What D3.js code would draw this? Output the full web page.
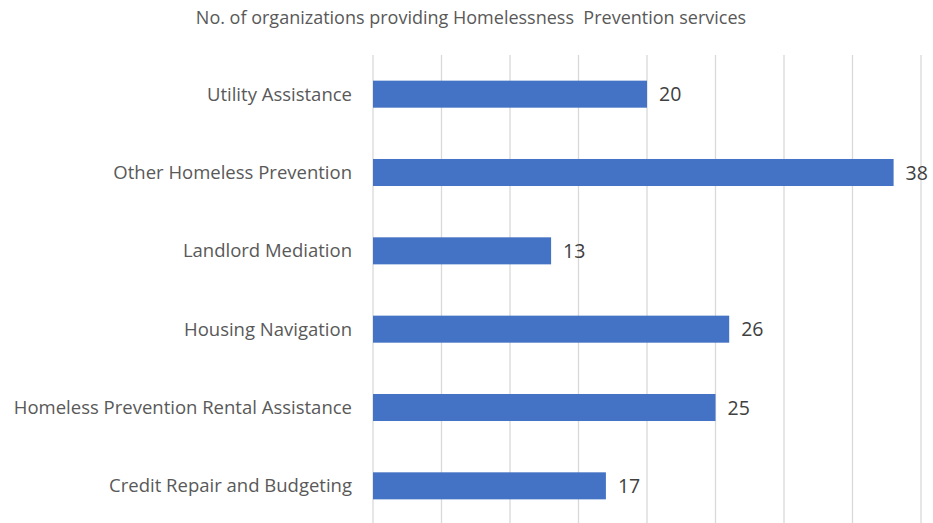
<!DOCTYPE html>
<html>
<head>
<meta charset="utf-8">
<script src="https://cdn.jsdelivr.net/npm/d3@7"></script>
<style>
  body { margin: 0; background: #fff; }
  text { font-family: "Open Sans", Lato, sans-serif; }
</style>
</head>
<body>
<svg id="chart" width="933" height="523"></svg>
<script>
var title = "No. of organizations providing Homelessness  Prevention services"

var categories = [
    "Utility Assistance",
    "Other Homeless Prevention",
    "Landlord Mediation",
    "Housing Navigation",
    "Homeless Prevention Rental Assistance",
    "Credit Repair and Budgeting"
]
var counts = [20, 38, 13, 26, 25, 17]
var xTicks = [0, 5, 10, 15, 20, 25, 30, 35, 40]

var svg = d3.select("#chart")

var x = d3.scaleLinear().domain([0, 40]).range([373, 921])
var y = d3.scaleBand().domain(categories).range([55, 525]).paddingInner(0.655).paddingOuter(0.3275)

// gridlines
svg.append("g")
    .selectAll("line")
    .data(xTicks)
    .join("line")
    .attr("x1", function(d){ return x(d); })
    .attr("x2", function(d){ return x(d); })
    .attr("y1", 55)
    .attr("y2", 523)
    .style("stroke", "#d9d9d9")
    .style("stroke-width", 1.3)

// bars
svg.append("g")
    .selectAll("rect")
    .data(counts)
    .join("rect")
    .attr("x", x(0))
    .attr("y", function(d, i){ return y(categories[i]); })
    .attr("width", function(d){ return x(d) - x(0); })
    .attr("height", y.bandwidth())
    .style("fill", "#4472c4")

// value labels
svg.append("g")
    .selectAll("text")
    .data(counts)
    .join("text")
    .attr("x", function(d){ return x(d) + 12; })
    .attr("y", function(d, i){ return y(categories[i]) + y.bandwidth() / 2; })
    .attr("dy", "0.36em")
    .style("font-size", "19.5px")
    .style("fill", "#404040")
    .text(function(d){ return d; })

// category labels
svg.append("g")
    .selectAll("text")
    .data(categories)
    .join("text")
    .attr("x", 352)
    .attr("y", function(d){ return y(d) + y.bandwidth() / 2; })
    .attr("dy", "0.36em")
    .attr("text-anchor", "end")
    .style("font-size", "18.5px")
    .style("fill", "#595959")
    .text(function(d){ return d; })

svg.append("text")
    .attr("x", 471)
    .attr("y", 24)
    .attr("text-anchor", "middle")
    .style("font-size", "18px")
    .style("fill", "#595959")
    .style("white-space", "pre")
    .text(title)
</script>
</body>
</html>
